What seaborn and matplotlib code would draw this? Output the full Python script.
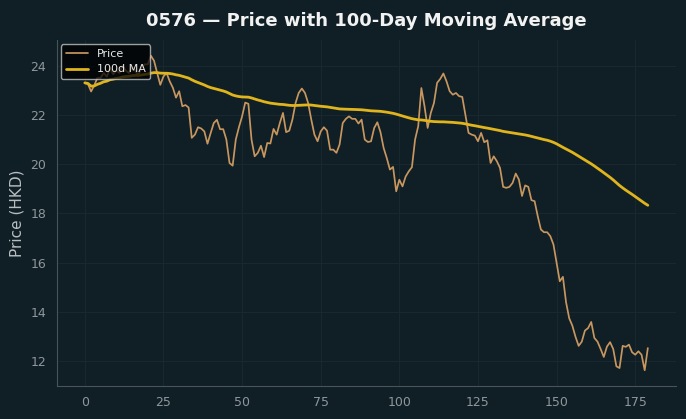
import numpy as np
import pandas as pd
import matplotlib
matplotlib.use("Agg")
import matplotlib.pyplot as plt
import seaborn as sns

title = "0576 \u2014 Price with 100-Day Moving Average"
ylabel = "Price (HKD)"
price_label = "Price"
ma_label = "100d MA"
ma_window = 100

price = [
    23.30, 23.25, 22.95, 23.20, 23.50, 23.50, 23.70, 23.55, 23.90, 23.65,
    23.80, 23.70, 24.00, 23.80, 23.70, 23.95, 23.80, 23.60, 23.90, 24.05,
    24.05, 24.40, 24.20, 23.70, 23.22, 23.56, 23.70, 23.36, 23.10, 22.70,
    22.96, 22.35, 22.40, 22.30, 21.07, 21.20, 21.50, 21.45, 21.33, 20.83,
    21.26, 21.67, 21.80, 21.42, 21.42, 21.00, 20.05, 19.94, 21.00, 21.50,
    21.94, 22.50, 22.45, 21.00, 20.32, 20.46, 20.75, 20.29, 20.86, 20.84,
    21.43, 21.20, 21.67, 22.08, 21.30, 21.36, 21.81, 22.48, 22.89, 23.07,
    22.89, 22.48, 21.81, 21.20, 20.93, 21.33, 21.50, 21.36, 20.59, 20.59,
    20.46, 20.80, 21.67, 21.84, 21.94, 21.84, 21.84, 21.65, 21.81, 21.00,
    20.90, 20.93, 21.47, 21.70, 21.30, 20.66, 20.25, 19.78, 19.89, 18.90,
    19.37, 19.10, 19.50, 19.71, 19.88, 21.00, 21.54, 23.09, 22.35, 21.47,
    22.08, 22.48, 23.30, 23.46, 23.68, 23.36, 22.96, 22.82, 22.89, 22.76,
    22.73, 22.01, 21.27, 21.20, 21.16, 20.93, 21.27, 20.89, 20.97, 20.05,
    20.32, 20.12, 19.85, 19.08, 19.04, 19.08, 19.24, 19.62, 19.38, 18.71,
    19.14, 19.08, 18.54, 18.50, 17.89, 17.35, 17.24, 17.24, 17.08, 16.74,
    16.00, 15.25, 15.43, 14.40, 13.75, 13.45, 13.00, 12.63, 12.80, 13.25,
    13.35, 13.60, 12.95, 12.80, 12.50, 12.18, 12.60, 12.78, 12.50, 11.80,
    11.73, 12.63, 12.59, 12.68, 12.37, 12.27, 12.41, 12.27, 11.64, 12.54,
]

bg = "#0f1f25"
df = pd.DataFrame({"day": np.arange(len(price)), "price": price})
df["ma"] = df["price"].rolling(ma_window, min_periods=1).mean()

sns.set_theme(style="dark")
plt.rcParams["font.family"] = ["DejaVu Sans"]

fig = plt.figure(figsize=(6.86, 4.19), dpi=100, facecolor=bg)
ax = fig.add_axes([0.0826, 0.0788, 0.9028, 0.8257])
ax.set_facecolor(bg)

sns.lineplot(data=df, x="day", y="price", ax=ax, color="#c8965f", lw=1.25, label=price_label)
sns.lineplot(data=df, x="day", y="ma", ax=ax, color="#e0b41c", lw=2.0, label=ma_label)

ax.set_title(title, color="#f2f2f2", fontsize=13, fontweight="bold", pad=10)
ax.set_xlabel("")
ax.set_ylabel(ylabel, color="#b8bec2", fontsize=11)
ax.tick_params(colors="#8f979b", labelsize=9, length=4, color="#5a6468")
ax.grid(True, color="#19292f", lw=0.7)
for s in ["top", "right"]:
    ax.spines[s].set_visible(False)
for s in ["left", "bottom"]:
    ax.spines[s].set_color("#4a5458")
    ax.spines[s].set_linewidth(0.8)

leg = ax.legend(loc="upper left", fontsize=8, facecolor="black", edgecolor="#cfcfcf",
                framealpha=0.75, borderaxespad=0.4)
for t in leg.get_texts():
    t.set_color("#e8e8e8")

fig.savefig("out.png", dpi=100, facecolor=bg)
